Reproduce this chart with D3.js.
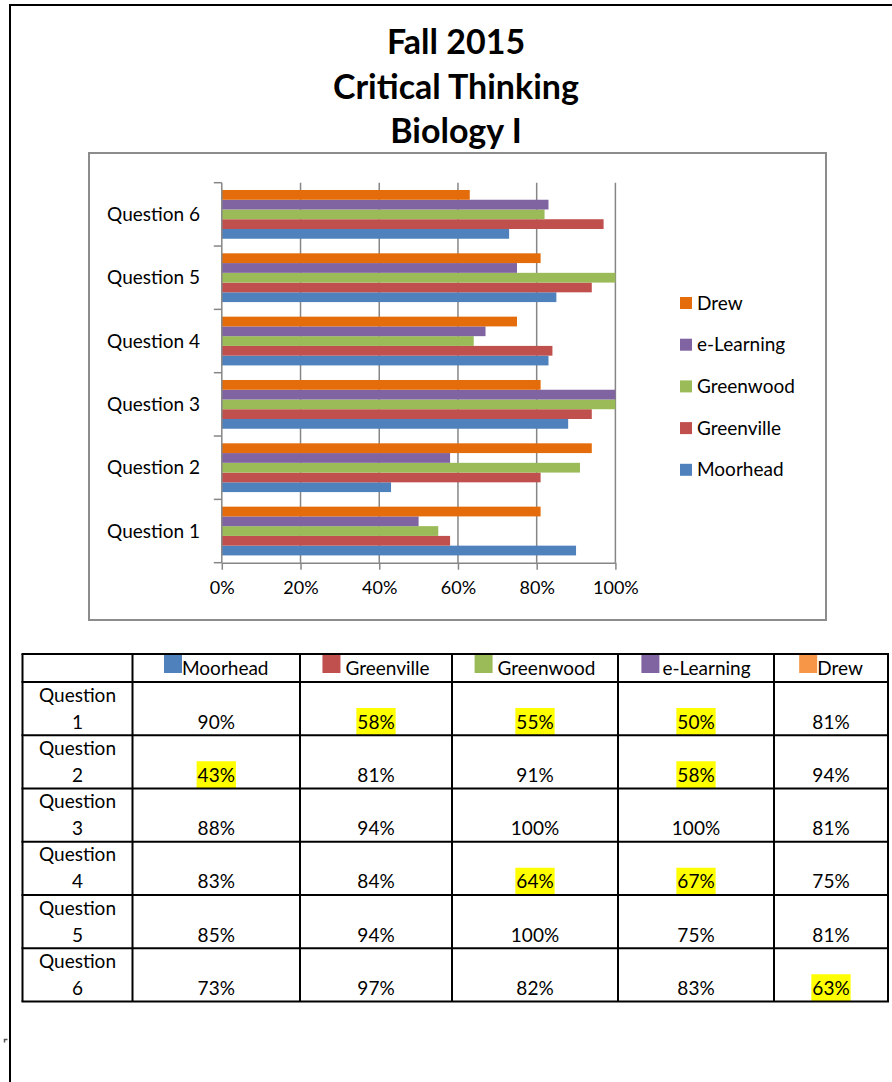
<!DOCTYPE html>
<html>
<head>
<meta charset="utf-8">
<style>
  body { margin: 0; background: #fff; }
  svg { display: block; }
  text { font-family: Lato, "Noto Sans", sans-serif; fill: #000; }
</style>
</head>
<body>

<script src="https://d3js.org/d3.v7.min.js"></script>
<script>

const width = 892;
const height = 1082;

const titleLines = ['Fall 2015', 'Critical Thinking', 'Biology I'];
const questions = ['Question 1', 'Question 2', 'Question 3', 'Question 4', 'Question 5', 'Question 6'];
const schools = ['Moorhead', 'Greenville', 'Greenwood', 'e-Learning', 'Drew'];
const moorhead = [90, 43, 88, 83, 85, 73];
const greenville = [58, 81, 94, 84, 94, 97];
const greenwood = [55, 91, 100, 64, 100, 82];
const eLearning = [50, 58, 100, 67, 75, 83];
const drew = [81, 94, 81, 75, 81, 63];
const xTicks = [0, 20, 40, 60, 80, 100];
// cells that are highlighted yellow in the table: [question index, school index]
const highlighted = [[0, 1], [0, 2], [0, 3], [1, 0], [1, 3], [3, 2], [3, 3], [5, 4]];

const seriesValues = [moorhead, greenville, greenwood, eLearning, drew];
const chartColors = ['#4F81BD', '#C0504D', '#9BBB59', '#8064A2', '#E46C0A'];
const tableColors = ['#4F81BD', '#C0504D', '#9BBB59', '#8064A2', '#F79646'];

const svg = d3.select('body')
              .append('svg')
              .attr('width', width)
              .attr('height', height);

// page frame (top + left rule)
svg.append('line')
   .attr('x1', 9).attr('x2', width)
   .attr('y1', 5).attr('y2', 5)
   .attr('stroke', '#000').attr('stroke-width', 2);
svg.append('line')
   .attr('x1', 10).attr('x2', 10)
   .attr('y1', 4).attr('y2', height)
   .attr('stroke', '#000').attr('stroke-width', 2);
svg.append('path')
   .attr('d', 'M4.5,1042.5V1039.5H7.5')
   .attr('fill', 'none').attr('stroke', '#555').attr('stroke-width', 1.5);

// title
svg.selectAll('text.title')
   .data(titleLines)
   .enter()
   .append('text')
   .attr('class', 'title')
   .attr('x', 456)
   .attr('y', (d, i) => 54 + i * 44.5)
   .attr('text-anchor', 'middle')
   .style('font-size', '34px')
   .style('font-weight', 'bold')
   .text(d => d);

// chart box
svg.append('rect')
   .attr('x', 89).attr('y', 153)
   .attr('width', 737).attr('height', 467)
   .attr('fill', '#fff')
   .attr('stroke', '#8c8c8c')
   .attr('stroke-width', 2);

const plotTop = 182.7;
const plotBottom = 562.7;
const axisColor = '#868686';

const x = d3.scaleLinear()
            .domain([0, 100])
            .range([221.8, 615.4]);

const y0 = d3.scaleBand()
             .domain(questions.slice().reverse())
             .range([plotTop, plotBottom]);

// Drew on top, Moorhead at the bottom of each group
const y1 = d3.scaleBand()
             .domain(schools.slice().reverse())
             .range([y0.bandwidth() * 0.115, y0.bandwidth() * 0.885]);

// gridlines
svg.append('g')
   .selectAll('line')
   .data(xTicks.slice(1))
   .enter()
   .append('line')
   .attr('x1', d => x(d)).attr('x2', d => x(d))
   .attr('y1', plotTop).attr('y2', plotBottom)
   .attr('stroke', axisColor)
   .attr('stroke-width', 1.5);

// bars
const groups = svg.append('g')
   .selectAll('g')
   .data(questions)
   .enter()
   .append('g')
   .attr('transform', d => `translate(0,${y0(d)})`);

groups.selectAll('rect')
      .data((q, qi) => schools.map((s, si) => ({ school: s, si, value: seriesValues[si][qi] })))
      .enter()
      .append('rect')
      .attr('x', x(0))
      .attr('y', d => y1(d.school))
      .attr('width', d => x(d.value) - x(0))
      .attr('height', y1.bandwidth())
      .attr('fill', d => chartColors[d.si]);

// x axis
const xAxis = svg.append('g')
   .attr('transform', `translate(0,${plotBottom})`)
   .call(d3.axisBottom(x)
           .tickValues(xTicks)
           .tickFormat(d => d + '%')
           .tickSize(7)
           .tickSizeOuter(0)
           .tickPadding(12));
xAxis.select('.domain').attr('stroke', axisColor).attr('stroke-width', 1.5);
xAxis.selectAll('.tick line').attr('stroke', axisColor).attr('stroke-width', 1.5);
xAxis.selectAll('.tick text')
     .style('font-family', 'Lato, sans-serif')
     .style('font-size', '18px')
     .attr('fill', '#000');

// y axis: line, ticks at group boundaries, labels centered in band
svg.append('line')
   .attr('x1', x(0)).attr('x2', x(0))
   .attr('y1', plotTop).attr('y2', plotBottom)
   .attr('stroke', axisColor).attr('stroke-width', 1.5);

const boundaries = questions.map(q => y0(q)).concat([plotBottom]);
svg.append('g')
   .selectAll('line')
   .data(boundaries)
   .enter()
   .append('line')
   .attr('x1', x(0) - 8).attr('x2', x(0))
   .attr('y1', d => d).attr('y2', d => d)
   .attr('stroke', axisColor).attr('stroke-width', 1.5);

svg.append('g')
   .selectAll('text')
   .data(questions)
   .enter()
   .append('text')
   .attr('x', 200)
   .attr('y', d => y0(d) + y0.bandwidth() / 2)
   .attr('dy', '0.35em')
   .attr('text-anchor', 'end')
   .style('font-size', '19px')
   .text(d => d);

// legend
const legendOrder = schools.slice().reverse();
const legend = svg.append('g')
   .selectAll('g')
   .data(legendOrder)
   .enter()
   .append('g')
   .attr('transform', (d, i) => `translate(680,${303 + i * 41.7})`);

legend.append('rect')
      .attr('x', 0).attr('y', -6)
      .attr('width', 12).attr('height', 12)
      .attr('fill', d => chartColors[schools.indexOf(d)]);

legend.append('text')
      .attr('x', 17)
      .attr('y', 0)
      .attr('dy', '0.35em')
      .style('font-size', '19px')
      .text(d => d);

// data table
const colX = [22.5, 132.5, 300, 452, 618, 774, 888];
const tableTop = 654;
const headerH = 28;
const rowH = 53.25;
const rowY = d3.range(questions.length + 1).map(i => tableTop + headerH + i * rowH);

const table = svg.append('g');

// header cells: swatch + name, centered
schools.forEach((s, si) => {
  const cx = (colX[si + 1] + colX[si + 2]) / 2;
  const gap = [0, 5, 5, 3, 0][si];
  const t = table.append('text')
                 .attr('y', tableTop + 14)
                 .attr('dy', '0.35em')
                 .style('font-size', '19px')
                 .text(s);
  const tw = t.node().getComputedTextLength();
  const gw = 18 + gap + tw;
  const gx = cx - gw / 2;
  table.append('rect')
       .attr('x', gx).attr('y', tableTop + 1)
       .attr('width', 18).attr('height', 18)
       .attr('fill', tableColors[si]);
  t.attr('x', gx + 18 + gap);
});

// body rows
questions.forEach((q, qi) => {
  const top = rowY[qi];
  const parts = q.split(' ');
  const cx0 = (colX[0] + colX[1]) / 2;
  table.append('text')
       .attr('x', cx0).attr('y', top + 13)
       .attr('dy', '0.35em')
       .attr('text-anchor', 'middle')
       .style('font-size', '19px')
       .text(parts[0]);
  table.append('text')
       .attr('x', cx0).attr('y', top + 40)
       .attr('dy', '0.35em')
       .attr('text-anchor', 'middle')
       .style('font-size', '19px')
       .text(parts[1]);

  schools.forEach((s, si) => {
    const cx = (colX[si + 1] + colX[si + 2]) / 2;
    const isHi = highlighted.some(h => h[0] === qi && h[1] === si);
    const hiRect = isHi ? table.append('rect') : null;
    const t = table.append('text')
                   .attr('x', cx).attr('y', top + 40)
                   .attr('dy', '0.35em')
                   .attr('text-anchor', 'middle')
                   .style('font-size', '19px')
                   .text(seriesValues[si][qi] + '%');
    if (hiRect) {
      const tw = t.node().getComputedTextLength();
      hiRect.attr('x', cx - tw / 2 - 1)
            .attr('y', top + 26)
            .attr('width', tw + 2)
            .attr('height', 27)
            .attr('fill', '#FFFF00');
    }
  });
});

// grid lines of the table
const tableBottom = rowY[rowY.length - 1];
table.selectAll('line.h')
     .data([tableTop].concat(rowY))
     .enter()
     .append('line')
     .attr('x1', colX[0] - 1).attr('x2', colX[colX.length - 1] + 1)
     .attr('y1', d => d).attr('y2', d => d)
     .attr('stroke', '#000').attr('stroke-width', 2);
table.selectAll('line.v')
     .data(colX)
     .enter()
     .append('line')
     .attr('x1', d => d).attr('x2', d => d)
     .attr('y1', tableTop).attr('y2', tableBottom)
     .attr('stroke', '#000').attr('stroke-width', 2);

</script>
</body>
</html>
